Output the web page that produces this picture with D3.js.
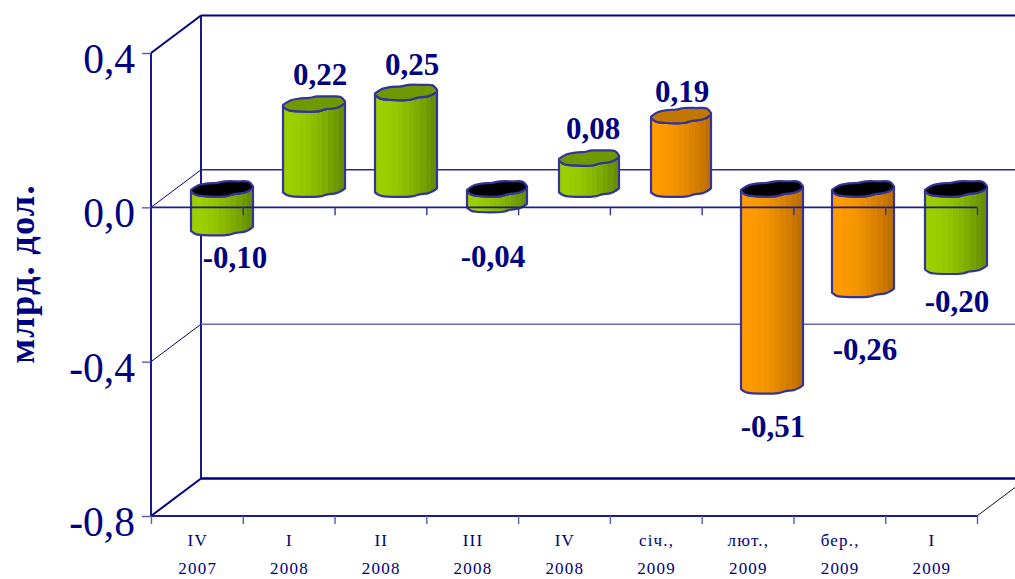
<!DOCTYPE html>
<html><head><meta charset="utf-8">
<script src="https://cdn.jsdelivr.net/npm/d3@7/dist/d3.min.js"></script>
<style>html,body{margin:0;padding:0;background:#fff;overflow:hidden}svg{display:block}text{font-family:"Liberation Serif","Times New Roman",serif;fill:#000080}</style>
</head><body><svg id="c" width="1015" height="579"></svg>
<script>
const quarter = ["IV","I","II","III","IV","січ.,","лют.,","бер.,","I"];
const years = ["2007","2008","2008","2008","2008","2009","2009","2009","2009"];
const values = [-0.10,0.22,0.25,-0.04,0.08,0.19,-0.51,-0.26,-0.20];
const barColor = ["g","g","g","g","g","o","o","o","g"];
const yTicks = [0.4,0,-0.4,-0.8];
const labelCx = [235,320,412,493,593,682,773,865,957];
const labelDy = [33,-26,-25,55,-26,-21,44,63,38];
const barWidths = [62,62,62,60,60,60,62,62,62];
const barNudge = [0,0,0,1,1,1,-1,-1,0];

const W=1015,H=579, navy="#000080", edge="#333399";
const svg=d3.select("#c");
const x0=151,x1=977,depthX=50,depthY=-37.5,barDx=40,barDy=-11;
const y=d3.scaleLinear().domain([-0.8,0.4]).range([516,53]);
const xPos=d3.scaleLinear().domain([0,9]).range([x0,x1]);
const band=d3.scaleBand().domain(d3.range(9)).range([x0,x1]).paddingInner(0).paddingOuter(0);

// gradients
const defs=svg.append("defs");
function grad(id,a,b){
  const g=defs.append("linearGradient").attr("id",id).attr("x1",0).attr("x2",1).attr("y1",0).attr("y2",0);
  const n=11, seq=d3.interpolateRgb(a,b);
  d3.range(n).forEach(i=>{
    const t=i<2?0:Math.pow((i-1)/(n-2),1.5);
    g.append("stop").attr("offset",i/n).attr("stop-color",seq(t));
    g.append("stop").attr("offset",(i+1)/n).attr("stop-color",seq(t));
  });
}
grad("g","#9ccf00","#668f00");
grad("o","#ff9b00","#bd6f00");

// back wall
const wall=svg.append("g").attr("fill","none");
const bx=x0+depthX;
wall.append("line").attr("x1",bx).attr("x2",bx).attr("y1",y(0.4)+depthY).attr("y2",y(-0.8)+depthY).attr("stroke",navy).attr("stroke-width",1.8);
const grid=[[0.4,navy,1.8],[0,"#2a2a90",1.5],[-0.4,"#6a6ab8",1.5],[-0.8,navy,2.6]];
grid.forEach(([v,c,w])=>{
  wall.append("line").attr("x1",bx).attr("x2",W).attr("y1",y(v)+depthY).attr("y2",y(v)+depthY).attr("stroke",c).attr("stroke-width",w);
  wall.append("line").attr("x1",x0).attr("x2",bx).attr("y1",y(v)).attr("y2",y(v)+depthY).attr("stroke",navy).attr("stroke-width",v===0||v===-0.4?1:2);
});
wall.append("line").attr("x1",x1).attr("x2",W).attr("y1",y(-0.8)).attr("y2",y(-0.8)+depthY*0.76).attr("stroke","#111").attr("stroke-width",1);

// bars
const frontTop=[[0,-5],[.08,-1.5],[.25,0],[.55,0],[.68,-2],[.88,-4],[1,-8]];
const frontBot=[[0,-4],[.07,-1],[.15,0],[.6,0],[.72,-2],[.85,-3],[.93,-5],[1,-8]];
const backTop=[[1,-10],[.93,-14.5],[.75,-15],[.55,-15],[.42,-13.5],[.28,-13],[.12,-11],[0,-6.5]];
const line=d3.line().curve(d3.curveCatmullRom.alpha(0.5));
const bars=svg.append("g");
values.forEach((v,i)=>{
  const bw=barWidths[i];
  const seg=(pts,l,b)=>pts.map(p=>[l+p[0]*bw,b+p[1]]);
  const l=Math.round(band(i))+barDx+barNudge[i];
  const y0=y(0)+barDy, yv=y(v)+barDy;
  const top=Math.min(y0,yv), bot=Math.max(y0,yv);
  const g=bars.append("g");
  const bodyBot=line(seg(frontBot,l,bot));
  const bodyTop=line(seg(frontTop.slice().reverse(),l,top)).replace(/^M/,"L");
  g.append("path").attr("d",bodyBot+bodyTop+"Z").attr("fill","url(#"+barColor[i]+")").attr("stroke",edge).attr("stroke-width",2.2).attr("stroke-linejoin","round");
  const capA=line(seg(frontTop,l,top));
  const capB=line(seg(backTop,l,top)).replace(/^M/,"L");
  const capFill=v<0?"#000":(barColor[i]==="o"?"#c27700":"#6f9900");
  g.append("path").attr("d",capA+capB+"Z").attr("fill",capFill).attr("stroke",edge).attr("stroke-width",2.2).attr("stroke-linejoin","round");
  svg.append("text")
    .attr("x",labelCx[i]).attr("y",(v>=0?top:bot)+labelDy[i])
    .attr("text-anchor","middle").attr("font-size",31).attr("font-weight","bold")
    .text(d3.format(".2f")(v).replace("−","-").replace(".",","));
});

// left axis line
svg.append("line").attr("x1",x0).attr("x2",x0).attr("y1",y(0.4)).attr("y2",y(-0.8)).attr("stroke",navy).attr("stroke-width",1.8);

// axes
const yAxis=d3.axisLeft(y).tickValues(yTicks).tickSize(9).tickPadding(7).tickFormat(d=>d3.format(".1f")(d).replace("−","-").replace(".",","));
const ya=svg.append("g").attr("transform",`translate(${x0},0)`).call(yAxis);
ya.select(".domain").remove();
ya.selectAll("line").attr("stroke","#5a5aae").attr("stroke-width",1.4);
ya.selectAll("text").attr("font-size",41.5).attr("dy",null).attr("y",19.5).attr("x",-16).attr("fill",navy);

const zeroAxis=d3.axisBottom(xPos).tickValues(d3.range(1,10)).tickSize(8).tickFormat("");
const za=svg.append("g").attr("transform",`translate(0,${y(0)})`).call(zeroAxis);
za.select(".domain").attr("d",`M${x0},0H${x1}`).attr("stroke","#1c1c8c").attr("stroke-width",1.6);
za.selectAll("line").attr("stroke","#333399").attr("stroke-width",1.4);

const botAxis=d3.axisBottom(xPos).tickValues(d3.range(0,10)).tickSize(8).tickFormat("");
const ba=svg.append("g").attr("transform",`translate(0,${y(-0.8)})`).call(botAxis);
ba.select(".domain").attr("d",`M${x0},0H${x1}`).attr("stroke","#1c1c8c").attr("stroke-width",1.8);
ba.selectAll("line").attr("stroke","#5a5aae").attr("stroke-width",1.4);

// category labels
const cat=svg.append("g");
quarter.forEach((q,i)=>{
  const cx=band(i)+band.bandwidth()/2+0.8;
  cat.append("text").attr("x",cx).attr("y",546).attr("text-anchor","middle").attr("font-size",17).attr("letter-spacing",1.2).text(q);
  cat.append("text").attr("x",cx).attr("y",574).attr("text-anchor","middle").attr("font-size",17).attr("letter-spacing",1.2).text(years[i]);
});

// axis title
svg.append("text").attr("transform","translate(34,274) rotate(-90)").attr("text-anchor","middle")
  .attr("font-size",36.5).attr("letter-spacing",1.2).attr("font-weight","bold").text("млрд. дол.");
</script></body></html>
